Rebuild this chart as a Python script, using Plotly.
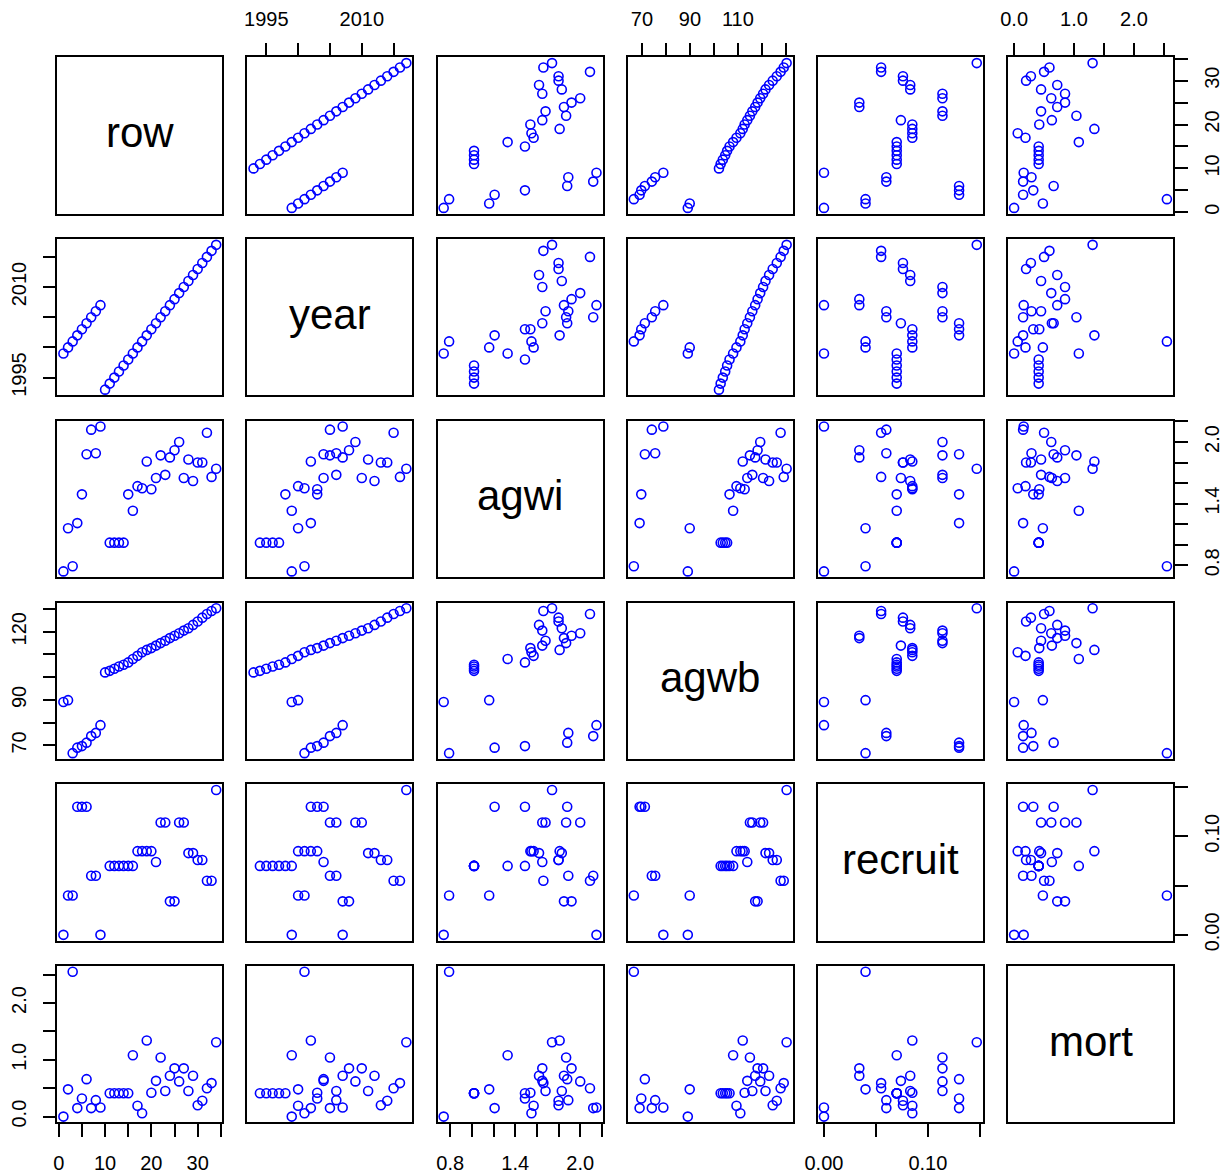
import numpy as np
import plotly.graph_objects as go

# ---------------- data ----------------
row = list(range(1, 35))
year = [1999, 2000, 2001, 2002, 2003, 2004, 2005, 2006, 2007,
        1993, 1994, 1995, 1996, 1997, 1998, 1999, 2000, 2001, 2002, 2003,
        2004, 2005, 2006, 2007, 2008, 2009, 2010, 2011, 2012, 2013, 2014,
        2015, 2016, 2017]
agwi = [0.74, 1.16, 0.79, 1.21, 1.49, 1.88, 2.12, 1.89, 2.15, None,
        1.02, 1.02, 1.02, 1.02, 1.49, 1.33, 1.57, 1.55, 1.81, 1.54,
        1.65, 1.87, 1.68, 1.85, 1.92, 2.00, 1.65, 1.83, 1.62, 1.80,
        1.80, 2.09, 1.66, 1.74]
agwb = [89.1, 89.9, 66.6, 69.0, 69.7, 71.2, 74.1, 75.5, 78.9, 102.1,
        102.8, 103.7, 104.7, 105.5, 106.5, 108.0, 109.4, 111.0, 112.0, 112.8,
        113.9, 115.0, 116.0, 117.2, 118.2, 119.3, 120.5, 121.5, 123.0, 124.5,
        126.2, 127.8, 129.1, 130.3]
recruit = [0.0, 0.04, 0.04, 0.13, 0.13, 0.13, 0.06, 0.06, 0.0, None,
           0.07, 0.07, 0.07, 0.07, 0.07, 0.07, 0.085, 0.085, 0.085, 0.085,
           0.074, 0.114, 0.114, 0.034, 0.034, 0.114, 0.114, 0.083, 0.083, 0.076,
           0.076, 0.055, 0.055, 0.147]
mort = [0.0, 0.48, 2.55, 0.15, 0.32, 0.66, 0.15, 0.29, 0.16, None,
        0.41, 0.41, 0.41, 0.41, 0.41, 1.08, 0.19, 0.06, 1.34, 0.42,
        0.63, 1.04, 0.45, 0.72, 0.85, 0.62, 0.85, 0.45, 0.72, 0.20,
        0.28, 0.50, 0.59, 1.31]

names = ["row", "year", "agwi", "agwb", "recruit", "mort"]
data = [row, year, agwi, agwb, recruit, mort]

# tick values and labels (R drops overlapping labels)
tick_vals = {
    "row": [0, 5, 10, 15, 20, 25, 30, 35],
    "year": [1995, 2000, 2005, 2010, 2015],
    "agwi": [0.8, 1.0, 1.2, 1.4, 1.6, 1.8, 2.0, 2.2],
    "agwb": [70, 80, 90, 100, 110, 120, 130],
    "recruit": [0.0, 0.05, 0.10, 0.15],
    "mort": [0.0, 0.5, 1.0, 1.5, 2.0, 2.5],
}
tick_text_x = {
    "row": ["0", "", "10", "", "20", "", "30", ""],
    "year": ["1995", "", "", "2010", ""],
    "agwi": ["0.8", "", "", "1.4", "", "", "2.0", ""],
    "agwb": ["70", "", "90", "", "110", "", ""],
    "recruit": ["0.00", "", "0.10", ""],
    "mort": ["0.0", "", "1.0", "", "2.0", ""],
}
tick_text_y = {
    "row": ["0", "", "10", "", "20", "", "30", ""],
    "year": ["1995", "", "", "2010", ""],
    "agwi": ["0.8", "", "", "1.4", "", "", "2.0", ""],
    "agwb": ["70", "", "90", "", "", "120", ""],
    "recruit": ["0.00", "", "0.10", ""],
    "mort": ["0.0", "", "1.0", "", "2.0", ""],
}

# ---------------- layout geometry ----------------
W, H = 1223, 1173
n = 6
col_left0, col_step, pw = 57.3, 190.14, 165.0
row_top0, row_step, ph = 57.3, 181.74, 156.4
FONT = "Liberation Sans, Arial, Helvetica, sans-serif"


def rng(v):
    a = np.array([np.nan if x is None else x for x in v], dtype=float)
    lo, hi = np.nanmin(a), np.nanmax(a)
    d = (hi - lo) * 0.04
    return [lo - d, hi + d]


ranges = [rng(v) for v in data]

fig = go.Figure()
layout = dict(
    width=W, height=H,
    margin=dict(l=0, r=0, t=0, b=0),
    paper_bgcolor="white", plot_bgcolor="white",
    showlegend=False,
    font=dict(family=FONT, size=20, color="black"),
)
annotations = []

for i in range(n):
    for j in range(n):
        k = i * n + j + 1
        xs = "" if k == 1 else str(k)
        left = col_left0 + col_step * j
        top = row_top0 + row_step * i
        xdom = [left / W, (left + pw) / W]
        ydom = [1 - (top + ph) / H, 1 - top / H]

        xax = dict(domain=xdom, range=ranges[j], anchor="y" + xs,
                   showgrid=False, zeroline=False, showline=True, mirror=True,
                   linecolor="black", linewidth=1.6, automargin=False,
                   ticks="", showticklabels=False, fixedrange=True)
        yax = dict(domain=ydom, range=ranges[i], anchor="x" + xs,
                   showgrid=False, zeroline=False, showline=True, mirror=True,
                   linecolor="black", linewidth=1.6, automargin=False,
                   ticks="", showticklabels=False, fixedrange=True)

        vx = names[j]
        vy = names[i]
        tick_common = dict(ticks="outside", ticklen=13, tickwidth=1.6,
                           tickcolor="black", showticklabels=True,
                           tickmode="array",
                           tickfont=dict(family=FONT, size=20, color="black"),
                           ticklabelstandoff=9)
        if i == 0 and j % 2 == 1:
            xax.update(tick_common, side="top", tickvals=tick_vals[vx],
                       ticktext=tick_text_x[vx])
        if i == n - 1 and j % 2 == 0:
            xax.update(tick_common, side="bottom", tickvals=tick_vals[vx],
                       ticktext=tick_text_x[vx])
        if j == 0 and i % 2 == 1:
            yax.update(tick_common, side="left", tickvals=tick_vals[vy],
                       ticktext=tick_text_y[vy], tickangle=-90)
        if j == n - 1 and i % 2 == 0:
            yax.update(tick_common, side="right", tickvals=tick_vals[vy],
                       ticktext=tick_text_y[vy], tickangle=-90,
                       ticklabelstandoff=7)

        layout["xaxis" + xs] = xax
        layout["yaxis" + xs] = yax

        if i == j:
            # empty trace so the diagonal subplot (box) is created
            fig.add_trace(go.Scatter(x=[None], y=[None], mode="markers",
                                     xaxis="x" + xs, yaxis="y" + xs,
                                     hoverinfo="skip"))
            annotations.append(dict(
                text=names[i], xref="x" + xs + " domain", yref="y" + xs + " domain",
                x=0.5, y=0.5, showarrow=False, xanchor="center", yanchor="middle",
                yshift=3,
                font=dict(family=FONT, size=42, color="black")))
        else:
            fig.add_trace(go.Scatter(
                x=data[j], y=data[i], mode="markers",
                xaxis="x" + xs, yaxis="y" + xs,
                marker=dict(symbol="circle-open", size=9, color="blue",
                            line=dict(width=1.6, color="blue")),
                hoverinfo="skip"))

layout["annotations"] = annotations
fig.update_layout(**layout)
fig.write_html("out.html",
               config={"displayModeBar": False},
               post_script="document.body.style.margin='0px';"
                           "document.body.style.overflow='hidden';")
